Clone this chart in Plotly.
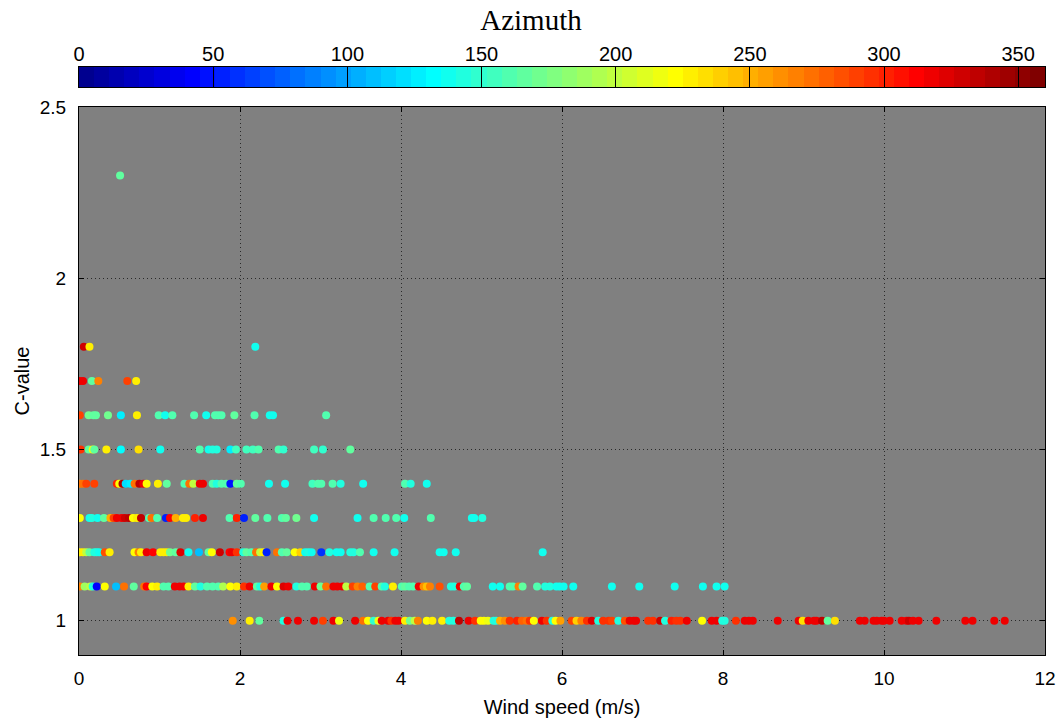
import numpy as np
import plotly.graph_objects as go

# ---------------- data ----------------
ws_230 = [0.51]
az_230 = [165]

ws_180 = [0.06, 0.13, 2.19]
az_180 = [330, 225, 140]

ws_170 = [0.01, 0.05, 0.16, 0.24, 0.60, 0.71]
az_170 = [320, 315, 165, 265, 290, 225]

ws_160 = [0.01, 0.12, 0.18, 0.21, 0.36, 0.52, 0.72, 0.99, 1.07, 1.16, 1.43, 1.58, 1.69, 1.73,
          1.77, 1.93, 2.18, 2.37, 2.41, 3.07]
az_160 = [290, 170, 165, 165, 170, 125, 225, 160, 135, 160, 160, 140, 160, 160,
          160, 165, 160, 140, 140, 160]

ws_150 = [0.02, 0.12, 0.17, 0.19, 0.34, 0.52, 0.74, 1.01, 1.50, 1.61, 1.66, 1.71, 1.88, 1.95,
          2.08, 2.16, 2.23, 2.48, 2.54, 2.92, 3.03, 3.37]
az_150 = [295, 165, 215, 165, 225, 130, 235, 140, 160, 140, 145, 145, 125, 155,
          155, 155, 160, 160, 150, 155, 150, 165]

ws_140 = [0.01, 0.05, 0.09, 0.19, 0.47, 0.50, 0.54, 0.58, 0.64, 0.69, 0.75, 0.80, 0.84, 0.98,
          1.09, 1.31, 1.37, 1.42, 1.50, 1.54, 1.66, 1.71, 1.77, 1.83, 1.88, 1.96, 2.01, 2.36,
          2.56, 2.90, 2.97, 3.01, 3.15, 3.25, 3.53, 4.05, 4.12, 4.32]
az_140 = [265, 270, 290, 290, 300, 220, 340, 120, 125, 270, 335, 315, 220, 225,
          165, 160, 270, 200, 320, 315, 160, 145, 160, 160, 50, 165, 160, 140,
          135, 155, 160, 160, 160, 145, 140, 160, 145, 140]

ws_130 = [0.01, 0.13, 0.16, 0.23, 0.31, 0.39, 0.43, 0.47, 0.53, 0.57, 0.62, 0.67, 0.72, 0.77,
          0.87, 0.90, 0.97, 1.08, 1.13, 1.20, 1.29, 1.33, 1.44, 1.54, 1.87, 1.96, 2.05, 2.19,
          2.34, 2.52, 2.57, 2.70, 2.92, 3.46, 3.66, 3.81, 3.94, 4.04, 4.37, 4.88, 4.91, 5.01]
az_130 = [220, 140, 145, 140, 165, 250, 290, 320, 315, 330, 335, 220, 225, 335,
          160, 270, 160, 55, 310, 250, 225, 225, 300, 315, 160, 300, 55, 165,
          160, 160, 165, 170, 140, 140, 160, 160, 160, 140, 160, 140, 140, 145]

ws_120 = [0.01, 0.05, 0.09, 0.13, 0.19, 0.22, 0.25, 0.32, 0.38, 0.69, 0.74, 0.77, 0.84, 0.92,
          1.01, 1.05, 1.09, 1.13, 1.20, 1.26, 1.36, 1.49, 1.61, 1.65, 1.75, 1.87, 1.90, 1.96,
          2.04, 2.08, 2.14, 2.20, 2.25, 2.29, 2.33, 2.46, 2.52, 2.58, 2.68, 2.75, 2.81, 2.85,
          2.89, 3.01, 3.11, 3.20, 3.25, 3.37, 3.41, 3.49, 3.66, 3.92, 4.48, 4.53, 4.68, 5.76]
az_120 = [225, 225, 200, 165, 145, 145, 140, 285, 225, 220, 265, 225, 315, 310,
          225, 225, 225, 170, 165, 325, 140, 110, 165, 220, 330, 310, 315, 295,
          145, 165, 160, 270, 200, 225, 55, 270, 160, 165, 220, 240, 140, 145,
          140, 60, 145, 140, 140, 145, 145, 160, 140, 140, 140, 140, 140, 140]

ws_110 = [0.01, 0.07, 0.14, 0.17, 0.22, 0.32, 0.46, 0.56, 0.68, 0.81, 0.84, 0.91, 0.97, 1.05,
          1.11, 1.19, 1.25, 1.30, 1.36, 1.44, 1.51, 1.59, 1.66, 1.73, 1.79, 1.88, 1.96, 2.05,
          2.12, 2.21, 2.25, 2.30, 2.39, 2.46, 2.54, 2.60, 2.70, 2.77, 2.83, 2.93, 3.00, 3.07,
          3.16, 3.21, 3.27, 3.32, 3.40, 3.46, 3.52, 3.61, 3.68, 3.76, 3.80, 3.90,
          4.01, 4.05, 4.10, 4.15, 4.22, 4.28, 4.32, 4.36, 4.48, 4.62, 4.66, 4.73, 4.78, 4.82,
          5.14, 5.23, 5.35, 5.39, 5.46, 5.51, 5.69, 5.79, 5.85, 5.93, 5.97, 6.02, 6.14, 6.62,
          6.96, 7.40, 7.75, 7.92, 8.02]
az_110 = [265, 190, 200, 145, 40, 220, 110, 270, 165, 270, 310, 220, 225, 160,
          160, 320, 320, 320, 225, 165, 145, 160, 160, 160, 195, 220, 225, 295,
          315, 165, 145, 255, 320, 220, 325, 320, 145, 160, 160, 315, 170, 270,
          320, 320, 320, 200, 290, 265, 280, 160, 290, 160, 145, 225,
          160, 165, 160, 160, 320, 260, 245, 265, 285, 145, 145, 320, 160, 165,
          140, 140, 160, 160, 265, 165, 160, 145, 145, 140, 140, 140, 140, 140,
          140, 140, 140, 140, 140]

ws_100 = [1.91, 2.12, 2.24, 2.54, 2.59, 2.72, 2.92, 3.03, 3.16, 3.23, 3.43, 3.53, 3.59, 3.66,
          3.72, 3.76, 3.84, 3.88, 3.93, 3.97,
          4.05, 4.11, 4.17, 4.21, 4.32, 4.39, 4.51, 4.60, 4.65, 4.72, 4.84, 4.92, 4.99, 5.03,
          5.08, 5.15, 5.18, 5.23, 5.29, 5.35, 5.44, 5.50, 5.56, 5.60, 5.65, 5.75, 5.81, 5.88,
          5.92, 5.98, 6.12, 6.18, 6.24, 6.31, 6.37, 6.45, 6.51, 6.58, 6.62, 6.70, 6.78, 6.84,
          6.89, 6.92, 7.07, 7.13, 7.22, 7.28, 7.36, 7.42, 7.47, 7.55, 7.74, 7.86, 7.92,
          7.99, 8.02, 8.16, 8.27, 8.32, 8.37, 8.68, 8.94, 8.99, 9.06, 9.13, 9.16, 9.23, 9.30,
          9.39, 9.70, 9.76, 9.87, 9.91, 9.97, 10.00, 10.07, 10.22, 10.28, 10.31, 10.36, 10.43,
          10.65, 11.01, 11.10, 11.37, 11.50]
az_100 = [260, 225, 165, 145, 320, 320, 320, 290, 320, 215, 320, 270, 220, 150,
          215, 320, 320, 295, 320, 320,
          225, 170, 200, 265, 220, 225, 225, 145, 145, 335, 320, 295, 220, 220,
          215, 145, 145, 250, 260, 295, 300, 280, 275, 295, 220, 320, 295, 145,
          220, 255, 290, 240, 265, 295, 325, 145, 295, 295, 290, 145, 285, 320,
          320, 320, 295, 295, 330, 145, 300, 295, 295, 320, 220, 320, 320,
          145, 145, 295, 320, 320, 320, 320, 320, 235, 320, 320, 320, 335, 165,
          235, 320, 320, 320, 320, 320, 320, 320, 320, 320, 330, 320, 320,
          320, 320, 320, 320, 320]

c_levels = [2.3, 1.8, 1.7, 1.6, 1.5, 1.4, 1.3, 1.2, 1.1, 1.0]
ws_rows = [ws_230, ws_180, ws_170, ws_160, ws_150, ws_140, ws_130, ws_120, ws_110, ws_100]
az_rows = [az_230, az_180, az_170, az_160, az_150, az_140, az_130, az_120, az_110, az_100]

x_ticks = [0, 2, 4, 6, 8, 10, 12]
y_ticks = [1, 1.5, 2, 2.5]
y_tick_text = ["1", "1.5", "2", "2.5"]
cb_ticks = [0, 50, 100, 150, 200, 250, 300, 350]
AZ_MAX = 360

# ---------------- MATLAB-style jet(64) colormap ----------------
def jet(m=64):
    n = int(np.ceil(m / 4))
    u = np.concatenate([np.arange(1, n + 1) / n, np.ones(n - 1), np.arange(n, 0, -1) / n])
    g = int(np.ceil(n / 2)) - (1 if m % 4 == 1 else 0) + np.arange(1, len(u) + 1)
    r = g + n
    b = g - n
    J = np.zeros((m, 3))
    mr = r <= m
    J[r[mr] - 1, 0] = u[mr]
    J[g - 1, 1] = u
    mb = b >= 1
    J[b[mb] - 1, 2] = u[mb]
    return J

NCOL = 64
J = jet(NCOL)
colorscale = []
for i, c in enumerate(J):
    col = "rgb(%d,%d,%d)" % tuple(int(round(v * 255)) for v in c)
    colorscale.append([i / NCOL, col])
    colorscale.append([(i + 1) / NCOL, col])

xs, ys, cs = [], [], []
for c, wr, ar in zip(c_levels, ws_rows, az_rows):
    xs += wr
    ys += [c] * len(wr)
    cs += ar

fig = go.Figure()
fig.add_trace(go.Scatter(
    x=xs, y=ys, mode="markers",
    marker=dict(size=8, color=cs, colorscale=colorscale, cmin=0, cmax=AZ_MAX,
                showscale=False, line=dict(width=0)),
    hoverinfo="x+y", showlegend=False, xaxis="x", yaxis="y",
))

# colour bar drawn as a heatmap strip on its own axes
centers = [(i + 0.5) * AZ_MAX / NCOL for i in range(NCOL)]
fig.add_trace(go.Heatmap(
    x=centers, y=[0], z=[centers], colorscale=colorscale, zmin=0, zmax=AZ_MAX,
    showscale=False, xaxis="x2", yaxis="y2", hoverinfo="skip",
))

FONT = "Liberation Sans, Arial, sans-serif"
main_top = 0.921
GRID = "#2a2a2a"
GDASH = "1px,3px"

fig.update_layout(
    width=1062, height=723,
    autosize=False,
    margin=dict(l=79, r=17, t=60, b=68, autoexpand=False),
    paper_bgcolor="white",
    plot_bgcolor="#808080",
    font=dict(family=FONT, size=19, color="black"),
    title=dict(text="Azimuth", x=0.5, xref="container", xanchor="center",
               y=0.972, yref="container", yanchor="middle",
               font=dict(family="Liberation Serif, DejaVu Serif, serif", size=29, color="black")),
    xaxis=dict(domain=[0, 1], range=[0, 12], tickvals=x_ticks, ticks="inside", ticklen=5,
               tickcolor="black", showline=True, linecolor="black", linewidth=1, mirror="ticks",
               showgrid=True, gridcolor=GRID, griddash=GDASH, gridwidth=1, zeroline=False,
               automargin=False, ticklabelstandoff=6,
               title=dict(text="Wind speed (m/s)", font=dict(size=20), standoff=12),
               anchor="y"),
    yaxis=dict(domain=[0, main_top], range=[0.9, 2.5], tickvals=y_ticks, ticktext=y_tick_text,
               ticks="inside", ticklen=5, tickcolor="black", showline=True, linecolor="black",
               linewidth=1, mirror="ticks", showgrid=True, gridcolor=GRID, griddash=GDASH,
               gridwidth=1, zeroline=False, automargin=False, ticklabelstandoff=8,
               title=dict(text="C-value", font=dict(size=20), standoff=4), anchor="x"),
    xaxis2=dict(domain=[0, 1], range=[0, AZ_MAX], side="top", tickvals=cb_ticks,
                ticks="inside", ticklen=20, tickcolor="black", tickwidth=1,
                showline=True, linecolor="black", linewidth=1, mirror=True, automargin=False,
                showgrid=False, zeroline=False, anchor="y2", tickfont=dict(size=20),
                ticklabelstandoff=-3),
    yaxis2=dict(domain=[0.9546, 0.9882], range=[-0.5, 0.5], showticklabels=False,
                ticks="", showline=True, linecolor="black", linewidth=1, mirror=True,
                showgrid=False, zeroline=False, anchor="x2", automargin=False),
)

fig.write_html("out.html")
